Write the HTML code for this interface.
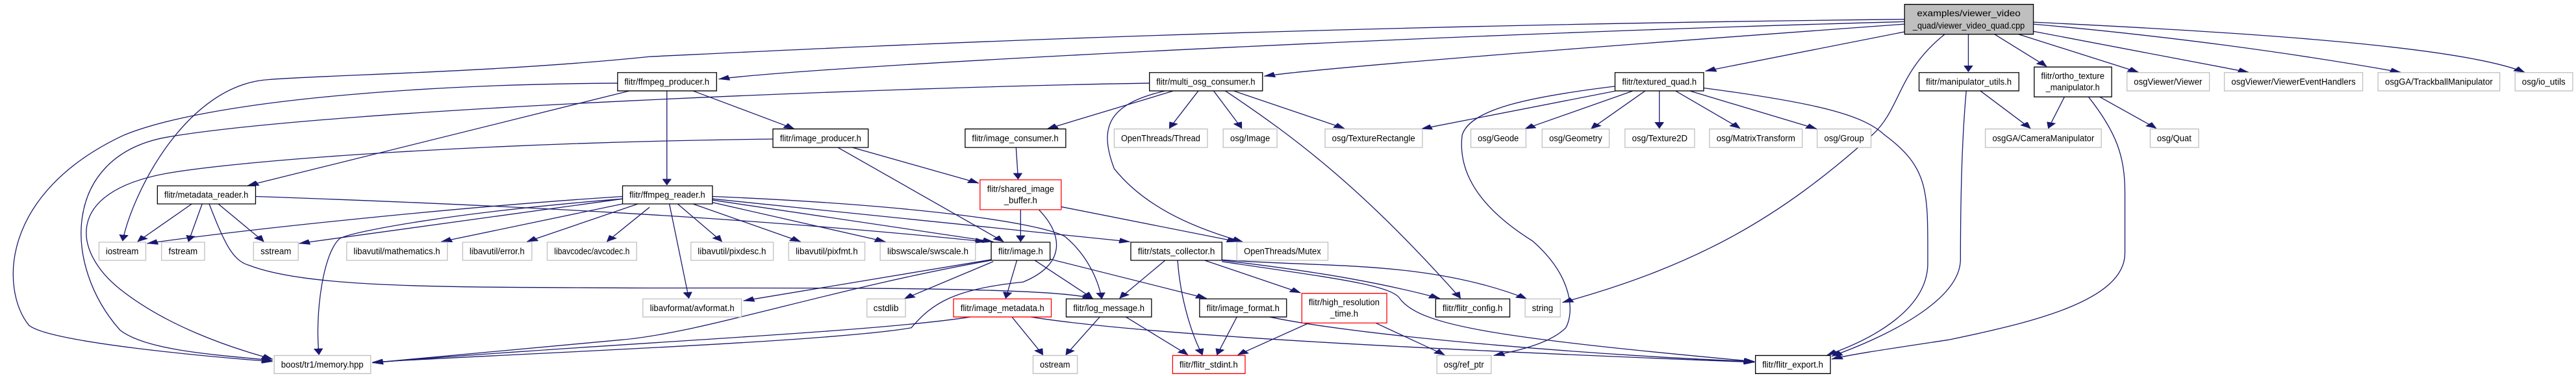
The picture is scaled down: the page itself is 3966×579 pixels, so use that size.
<!DOCTYPE html>
<html><head><meta charset="utf-8"><style>
html,body{margin:0;padding:0;background:#fff;}
svg{display:block;}
text{font-family:"Liberation Sans",sans-serif;font-size:38px;fill:#000;}
.e{fill:none;stroke:#191970;stroke-width:1.3;vector-effect:non-scaling-stroke;}
.b{fill:#fff;stroke:#000;stroke-width:1.3;vector-effect:non-scaling-stroke;}
.g{fill:#fff;stroke:#bfbfbf;stroke-width:1.3;vector-effect:non-scaling-stroke;}
.r{fill:#fff;stroke:#ff0000;stroke-width:1.3;vector-effect:non-scaling-stroke;}
.m{fill:#bfbfbf;stroke:#000;stroke-width:1.3;vector-effect:non-scaling-stroke;}
</style></head><body>
<svg width="3966" height="579" viewBox="0 0 6219 1560" preserveAspectRatio="none" xmlns="http://www.w3.org/2000/svg">
<defs><marker id="a" markerUnits="userSpaceOnUse" markerWidth="26" markerHeight="22" refX="26" refY="11" orient="auto"><path d="M0,0 L26,11 L0,22 z" fill="#191970" stroke="#191970"/></marker></defs>
<g marker-end="url(#a)">
<path class="e" d="M4598,80 C3000,110 2000,200 1568,235 C1200,300 800,310 650,330 C450,350 320,800 296,1000"/>
<path class="e" d="M4598,90 C3500,140 2000,270 1735,328"/>
<path class="e" d="M4598,100 C3800,200 3200,280 3052,316"/>
<path class="e" d="M4598,132 L4117,295"/>
<path class="e" d="M4695,142 C4580,300 4590,450 4520,560 C4300,900 4100,1100 3772,1255"/>
<path class="e" d="M4752,142 L4752,298"/>
<path class="e" d="M4815,142 L4941,276"/>
<path class="e" d="M4873,142 L5163,300"/>
<path class="e" d="M4909,130 L5429,300"/>
<path class="e" d="M4909,100 C5300,160 5600,240 5796,300"/>
<path class="e" d="M4909,92 C5500,140 5950,200 6095,300"/>
<path class="e" d="M1491,345 C1000,350 500,420 300,560 C0,800 0,1200 70,1350 C120,1420 500,1480 658,1500"/>
<path class="e" d="M2775,345 C2200,360 800,450 400,570 C150,650 150,1100 290,1370 C350,1450 500,1470 658,1495"/>
<path class="e" d="M1866,577 C1200,590 600,660 400,720 C150,800 180,1050 290,1200 C400,1350 550,1440 658,1490"/>
<path class="e" d="M1520,377 L598,770"/>
<path class="e" d="M1610,377 L1610,768"/>
<path class="e" d="M1673,377 L1918,535"/>
<path class="e" d="M463,846 L332,1003"/>
<path class="e" d="M488,846 L455,1003"/>
<path class="e" d="M527,846 L637,1003"/>
<path class="e" d="M505,846 C540,1000 560,1080 600,1100 C750,1200 1100,1190 1568,1195 C2000,1195 2550,1190 2640,1240"/>
<path class="e" d="M617,815 C1200,850 1800,900 2380,1003"/>
<path class="e" d="M1503,815 C1100,860 600,950 355,1010"/>
<path class="e" d="M1503,825 L722,1010"/>
<path class="e" d="M1503,825 C1100,880 850,960 820,990 C780,1050 760,1300 770,1472"/>
<path class="e" d="M1503,846 L1065,1003"/>
<path class="e" d="M1540,846 L1272,1003"/>
<path class="e" d="M1568,860 L1465,1003"/>
<path class="e" d="M1636,846 L1743,1003"/>
<path class="e" d="M1673,846 L1933,1003"/>
<path class="e" d="M1720,840 L2138,1003"/>
<path class="e" d="M1720,830 L2398,1003"/>
<path class="e" d="M1720,825 L2728,1003"/>
<path class="e" d="M1720,815 C2200,850 2500,920 2570,980 C2620,1050 2650,1150 2660,1240"/>
<path class="e" d="M1616,846 L1663,1238"/>
<path class="e" d="M2023,612 L2423,1003"/>
<path class="e" d="M2058,612 L2363,760"/>
<path class="e" d="M2453,612 L2458,744"/>
<path class="e" d="M2833,377 L2528,535"/>
<path class="e" d="M2893,377 L2823,533"/>
<path class="e" d="M2930,377 L2998,533"/>
<path class="e" d="M2813,377 C2680,430 2650,520 2690,700 C2760,850 2870,940 3000,1003"/>
<path class="e" d="M2978,377 L3246,533"/>
<path class="e" d="M2958,377 C3136,580 3300,800 3526,1238"/>
<path class="e" d="M2464,870 L2464,1003"/>
<path class="e" d="M2562,858 L2988,1003"/>
<path class="e" d="M2508,870 C2570,980 2570,1100 2470,1170 C2300,1200 2250,1260 2200,1360 C2000,1420 1200,1470 899,1503"/>
<path class="e" d="M2393,1077 L1795,1248"/>
<path class="e" d="M2393,1080 C2000,1200 1700,1380 1500,1410 C1200,1460 1000,1490 899,1505"/>
<path class="e" d="M2398,1085 L2183,1240"/>
<path class="e" d="M2455,1080 L2428,1238"/>
<path class="e" d="M2498,1080 L2638,1238"/>
<path class="e" d="M2535,1075 L2913,1238"/>
<path class="e" d="M2813,1080 L2703,1238"/>
<path class="e" d="M2843,1080 C2850,1250 2880,1400 2903,1473"/>
<path class="e" d="M2908,1080 L3140,1215"/>
<path class="e" d="M2950,1080 C3200,1130 3350,1180 3476,1238"/>
<path class="e" d="M2950,1078 C3200,1110 3450,1080 3686,1240"/>
<path class="e" d="M2950,1085 C3200,1150 3360,1180 3380,1240 C3430,1350 3600,1400 4236,1500"/>
<path class="e" d="M2343,1315 C2100,1380 1500,1420 899,1505"/>
<path class="e" d="M2443,1315 L2518,1473"/>
<path class="e" d="M2488,1315 C2800,1400 3600,1460 4236,1503"/>
<path class="e" d="M2655,1315 L2573,1473"/>
<path class="e" d="M2718,1315 L2868,1473"/>
<path class="e" d="M2986,1315 L2938,1473"/>
<path class="e" d="M3065,1315 C3300,1400 3900,1480 4236,1500"/>
<path class="e" d="M3160,1340 L2988,1473"/>
<path class="e" d="M3321,1340 L3488,1473"/>
<path class="e" d="M3899,378 L3431,535"/>
<path class="e" d="M3941,378 L3681,535"/>
<path class="e" d="M3971,378 L3841,535"/>
<path class="e" d="M4006,378 L4006,533"/>
<path class="e" d="M4046,378 L4201,533"/>
<path class="e" d="M4081,378 L4386,535"/>
<path class="e" d="M3899,358 C3700,400 3550,450 3530,560 C3520,700 3560,850 3700,1000 C3800,1150 3800,1300 3780,1360 C3740,1430 3650,1460 3606,1475"/>
<path class="e" d="M4113,365 C4400,430 4500,480 4550,560 C4660,700 4654,800 4654,1100 C4650,1300 4500,1420 4411,1473"/>
<path class="e" d="M4781,377 L4902,533"/>
<path class="e" d="M4747,377 C4735,600 4733,900 4733,1080 C4730,1250 4550,1400 4422,1478"/>
<path class="e" d="M4984,402 L4945,533"/>
<path class="e" d="M5069,402 L5206,533"/>
<path class="e" d="M5042,402 C5110,550 5130,650 5130,800 L5130,1050 C5130,1250 4900,1340 4704,1410 C4550,1450 4470,1470 4422,1490"/>
</g>
<!-- nodes -->
<g text-anchor="middle">
<rect class="m" x="4598" y="18" width="311" height="124"/>
<text x="4753" y="68" textLength="250" lengthAdjust="spacingAndGlyphs">examples/viewer_video</text>
<text x="4753" y="118" textLength="270" lengthAdjust="spacingAndGlyphs">_quad/viewer_video_quad.cpp</text>

<rect class="b" x="1491" y="301" width="239" height="76"/><text x="1610" y="352" textLength="205" lengthAdjust="spacingAndGlyphs">flitr/ffmpeg_producer.h</text>
<rect class="b" x="2775" y="301" width="273" height="76"/><text x="2911" y="352" textLength="239" lengthAdjust="spacingAndGlyphs">flitr/multi_osg_consumer.h</text>
<rect class="b" x="3899" y="301" width="214" height="76"/><text x="4006" y="352" textLength="180" lengthAdjust="spacingAndGlyphs">flitr/textured_quad.h</text>
<rect class="b" x="4633" y="301" width="241" height="76"/><text x="4753" y="352" textLength="207" lengthAdjust="spacingAndGlyphs">flitr/manipulator_utils.h</text>
<rect class="b" x="4911" y="278" width="187" height="124"/>
<text x="5004" y="328" textLength="153" lengthAdjust="spacingAndGlyphs">flitr/ortho_texture</text>
<text x="5004" y="374" textLength="130" lengthAdjust="spacingAndGlyphs">_manipulator.h</text>
<rect class="g" x="5135" y="301" width="199" height="76"/><text x="5234" y="352" textLength="165" lengthAdjust="spacingAndGlyphs">osgViewer/Viewer</text>
<rect class="g" x="5370" y="301" width="334" height="76"/><text x="5537" y="352" textLength="300" lengthAdjust="spacingAndGlyphs">osgViewer/ViewerEventHandlers</text>
<rect class="g" x="5741" y="301" width="294" height="76"/><text x="5888" y="352" textLength="260" lengthAdjust="spacingAndGlyphs">osgGA/TrackballManipulator</text>
<rect class="g" x="6072" y="301" width="139" height="76"/><text x="6141" y="352" textLength="105" lengthAdjust="spacingAndGlyphs">osg/io_utils</text>

<rect class="b" x="1866" y="535" width="230" height="77"/><text x="1981" y="586" textLength="196" lengthAdjust="spacingAndGlyphs">flitr/image_producer.h</text>
<rect class="b" x="2330" y="535" width="243" height="77"/><text x="2451" y="586" textLength="209" lengthAdjust="spacingAndGlyphs">flitr/image_consumer.h</text>
<rect class="g" x="2690" y="535" width="225" height="77"/><text x="2802" y="586" textLength="191" lengthAdjust="spacingAndGlyphs">OpenThreads/Thread</text>
<rect class="g" x="2953" y="535" width="130" height="77"/><text x="3018" y="586" textLength="96" lengthAdjust="spacingAndGlyphs">osg/Image</text>
<rect class="g" x="3199" y="535" width="235" height="77"/><text x="3316" y="586" textLength="201" lengthAdjust="spacingAndGlyphs">osg/TextureRectangle</text>
<rect class="g" x="3551" y="535" width="133" height="77"/><text x="3617" y="586" textLength="99" lengthAdjust="spacingAndGlyphs">osg/Geode</text>
<rect class="g" x="3723" y="535" width="162" height="77"/><text x="3804" y="586" textLength="128" lengthAdjust="spacingAndGlyphs">osg/Geometry</text>
<rect class="g" x="3923" y="535" width="168" height="77"/><text x="4007" y="586" textLength="134" lengthAdjust="spacingAndGlyphs">osg/Texture2D</text>
<rect class="g" x="4127" y="535" width="224" height="77"/><text x="4239" y="586" textLength="190" lengthAdjust="spacingAndGlyphs">osg/MatrixTransform</text>
<rect class="g" x="4387" y="535" width="130" height="77"/><text x="4452" y="586" textLength="96" lengthAdjust="spacingAndGlyphs">osg/Group</text>
<rect class="g" x="4793" y="535" width="280" height="77"/><text x="4933" y="586" textLength="246" lengthAdjust="spacingAndGlyphs">osgGA/CameraManipulator</text>
<rect class="g" x="5191" y="535" width="117" height="77"/><text x="5249" y="586" textLength="83" lengthAdjust="spacingAndGlyphs">osg/Quat</text>

<rect class="b" x="380" y="771" width="237" height="75"/><text x="498" y="821" textLength="203" lengthAdjust="spacingAndGlyphs">flitr/metadata_reader.h</text>
<rect class="b" x="1503" y="771" width="217" height="75"/><text x="1611" y="821" textLength="183" lengthAdjust="spacingAndGlyphs">flitr/ffmpeg_reader.h</text>
<rect class="r" x="2366" y="746" width="196" height="124"/>
<text x="2464" y="796" textLength="162" lengthAdjust="spacingAndGlyphs">flitr/shared_image</text>
<text x="2464" y="843" textLength="80" lengthAdjust="spacingAndGlyphs">_buffer.h</text>

<rect class="g" x="239" y="1005" width="113" height="75"/><text x="295" y="1055" textLength="79" lengthAdjust="spacingAndGlyphs">iostream</text>
<rect class="g" x="390" y="1005" width="104" height="75"/><text x="442" y="1055" textLength="70" lengthAdjust="spacingAndGlyphs">fstream</text>
<rect class="g" x="612" y="1005" width="108" height="75"/><text x="666" y="1055" textLength="74" lengthAdjust="spacingAndGlyphs">sstream</text>
<rect class="g" x="837" y="1005" width="243" height="75"/><text x="958" y="1055" textLength="209" lengthAdjust="spacingAndGlyphs">libavutil/mathematics.h</text>
<rect class="g" x="1117" y="1005" width="167" height="75"/><text x="1200" y="1055" textLength="133" lengthAdjust="spacingAndGlyphs">libavutil/error.h</text>
<rect class="g" x="1321" y="1005" width="216" height="75"/><text x="1429" y="1055" textLength="182" lengthAdjust="spacingAndGlyphs">libavcodec/avcodec.h</text>
<rect class="g" x="1668" y="1005" width="199" height="75"/><text x="1767" y="1055" textLength="165" lengthAdjust="spacingAndGlyphs">libavutil/pixdesc.h</text>
<rect class="g" x="1904" y="1005" width="184" height="75"/><text x="1996" y="1055" textLength="150" lengthAdjust="spacingAndGlyphs">libavutil/pixfmt.h</text>
<rect class="g" x="2125" y="1005" width="230" height="75"/><text x="2240" y="1055" textLength="196" lengthAdjust="spacingAndGlyphs">libswscale/swscale.h</text>
<rect class="b" x="2393" y="1005" width="142" height="75"/><text x="2464" y="1055" textLength="108" lengthAdjust="spacingAndGlyphs">flitr/image.h</text>
<rect class="b" x="2730" y="1005" width="220" height="75"/><text x="2840" y="1055" textLength="186" lengthAdjust="spacingAndGlyphs">flitr/stats_collector.h</text>
<rect class="g" x="2986" y="1005" width="220" height="75"/><text x="3096" y="1055" textLength="186" lengthAdjust="spacingAndGlyphs">OpenThreads/Mutex</text>

<rect class="g" x="1552" y="1240" width="238" height="75"/><text x="1671" y="1290" textLength="204" lengthAdjust="spacingAndGlyphs">libavformat/avformat.h</text>
<rect class="g" x="2093" y="1240" width="93" height="75"/><text x="2139" y="1290" textLength="61" lengthAdjust="spacingAndGlyphs">cstdlib</text>
<rect class="r" x="2302" y="1240" width="236" height="75"/><text x="2420" y="1290" textLength="202" lengthAdjust="spacingAndGlyphs">flitr/image_metadata.h</text>
<rect class="b" x="2574" y="1240" width="206" height="75"/><text x="2677" y="1290" textLength="172" lengthAdjust="spacingAndGlyphs">flitr/log_message.h</text>
<rect class="b" x="2896" y="1240" width="210" height="75"/><text x="3001" y="1290" textLength="176" lengthAdjust="spacingAndGlyphs">flitr/image_format.h</text>
<rect class="r" x="3143" y="1217" width="205" height="123"/>
<text x="3245" y="1267" textLength="171" lengthAdjust="spacingAndGlyphs">flitr/high_resolution</text>
<text x="3245" y="1313" textLength="68" lengthAdjust="spacingAndGlyphs">_time.h</text>
<rect class="b" x="3466" y="1240" width="179" height="75"/><text x="3555" y="1290" textLength="145" lengthAdjust="spacingAndGlyphs">flitr/flitr_config.h</text>
<rect class="g" x="3682" y="1240" width="85" height="75"/><text x="3724" y="1290" textLength="51" lengthAdjust="spacingAndGlyphs">string</text>

<rect class="g" x="662" y="1475" width="233" height="75"/><text x="778" y="1525" textLength="199" lengthAdjust="spacingAndGlyphs">boost/tr1/memory.hpp</text>
<rect class="g" x="2494" y="1475" width="107" height="75"/><text x="2547" y="1525" textLength="73" lengthAdjust="spacingAndGlyphs">ostream</text>
<rect class="r" x="2831" y="1475" width="175" height="75"/><text x="2918" y="1525" textLength="141" lengthAdjust="spacingAndGlyphs">flitr/flitr_stdint.h</text>
<rect class="g" x="3469" y="1475" width="131" height="75"/><text x="3534" y="1525" textLength="97" lengthAdjust="spacingAndGlyphs">osg/ref_ptr</text>
<rect class="b" x="4238" y="1475" width="181" height="75"/><text x="4328" y="1525" textLength="147" lengthAdjust="spacingAndGlyphs">flitr/flitr_export.h</text>
</g>
</svg>
</body></html>
